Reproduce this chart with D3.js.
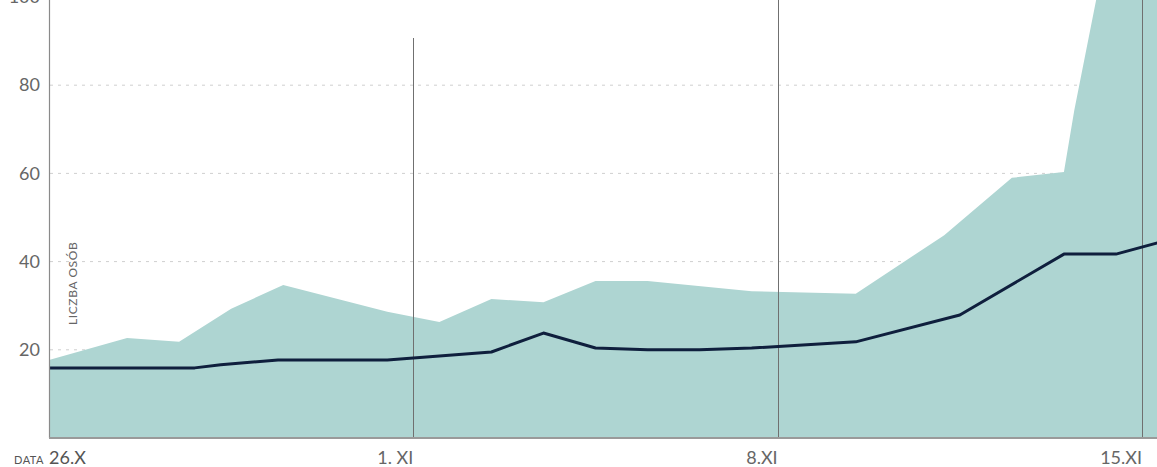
<!DOCTYPE html>
<html>
<head>
<meta charset="utf-8">
<script src="https://cdn.jsdelivr.net/npm/d3@7"></script>
<style>
  html, body { margin: 0; padding: 0; background: #fff; overflow: hidden; }
  svg { display: block; font-family: Lato, "Noto Sans", sans-serif; }
</style>
</head>
<body>
<svg id="chart" width="1157" height="467"></svg>
<script>
// data (x = days after the start of the axis)
const rangeDays   = [0, 1.5, 2.5, 3.5, 4.5, 6.5, 7.5, 8.5, 9.5, 10.5, 11.5, 13.5, 15.5, 17.2, 18.5, 19.5, 19.7, 20.5, 21.5];
const rangeValues = [17.7, 22.7, 21.8, 29.3, 34.7, 28.6, 26.3, 31.5, 30.8, 35.6, 35.6, 33.3, 32.7, 46.0, 59.0, 60.3, 74.4, 122, 125];

const lineDays   = [0, 2.8, 3.3, 4.4, 6.5, 8.5, 9.5, 10.5, 11.5, 12.5, 13.5, 15.5, 17.5, 19.5, 20.5, 21.5];
const lineValues = [15.9, 15.9, 16.6, 17.7, 17.7, 19.5, 23.8, 20.4, 20.0, 20.0, 20.4, 21.8, 27.9, 41.7, 41.7, 44.9];

const yTicks = [20, 40, 60, 80, 100];
const dateTicks  = [0, 7, 14, 21];
const dateLabels = ["26.X", "1. XI", "8.XI", "15.XI"];

function run() {
  let svg = d3.select("#chart");
  let width = +svg.attr("width");

  let x = d3.scaleLinear().domain([0, 21]).range([49, 1142]);
  let y = d3.scaleLinear().domain([0, 100]).range([438, -3]);

  // dashed grid
  svg.append("g")
    .selectAll("line")
    .data(yTicks)
    .join("line")
    .attr("x1", 50).attr("x2", width)
    .attr("y1", d => y(d)).attr("y2", d => y(d))
    .attr("stroke", "#cfcfcf")
    .attr("stroke-width", 1)
    .attr("stroke-dasharray", "3,5");

  // range area
  let rangeData = rangeDays.map((d, i) => ({ d: d, v: rangeValues[i] }));
  let area = d3.area()
    .x(p => x(p.d))
    .y0(y(0))
    .y1(p => y(p.v));
  svg.append("path")
    .datum(rangeData)
    .attr("d", area)
    .attr("fill", "#aed5d2");

  // week markers
  svg.append("g")
    .selectAll("line")
    .data(dateTicks.slice(1))
    .join("line")
    .attr("x1", d => Math.round(x(d)) + 0.5).attr("x2", d => Math.round(x(d)) + 0.5)
    .attr("y1", (d, i) => i === 0 ? 38 : 0)
    .attr("y2", y(0))
    .attr("stroke", "#707070")
    .attr("stroke-width", 1);

  // main line
  let lineData = lineDays.map((d, i) => ({ d: d, v: lineValues[i] }));
  let line = d3.line()
    .x(p => x(p.d))
    .y(p => y(p.v));
  svg.append("path")
    .datum(lineData)
    .attr("d", line)
    .attr("fill", "none")
    .attr("stroke", "#0f1f3d")
    .attr("stroke-width", 3)
    .attr("stroke-linejoin", "round");

  // axes
  svg.append("line")
    .attr("x1", 49.5).attr("x2", 49.5)
    .attr("y1", 0).attr("y2", y(0))
    .attr("stroke", "#8a8a8a").attr("stroke-width", 1.2);
  svg.append("line")
    .attr("x1", 49).attr("x2", width)
    .attr("y1", y(0)).attr("y2", y(0))
    .attr("stroke", "#9a9a9a").attr("stroke-width", 2);

  let yAxis = d3.axisLeft(y).tickValues(yTicks).tickSize(0).tickPadding(9);
  let gy = svg.append("g").attr("transform", "translate(49,0)").call(yAxis);
  gy.select(".domain").remove();
  gy.selectAll("text")
    .attr("font-family", "Lato, 'Noto Sans', sans-serif")
    .attr("font-size", 18)
    .attr("fill", "#666");

  // date labels
  svg.append("g")
    .selectAll("text")
    .data(dateTicks)
    .join("text")
    .attr("x", d => x(d))
    .attr("y", 464)
    .attr("text-anchor", (d, i) => i === 0 ? "start" : "end")
    .attr("font-size", 18)
    .attr("fill", (d, i) => i === 0 ? "#555" : "#666")
    .text((d, i) => dateLabels[i]);

  svg.append("text")
    .attr("x", 14).attr("y", 464)
    .attr("font-size", 11)
    .attr("fill", "#555")
    .attr("letter-spacing", 0.5)
    .text("DATA");

  svg.append("text")
    .attr("transform", "translate(77,325) rotate(-90)")
    .attr("font-size", 12)
    .attr("fill", "#666")
    .attr("letter-spacing", 0.6)
    .text("LICZBA OSÓB");
}

run();
</script>
</body>
</html>
